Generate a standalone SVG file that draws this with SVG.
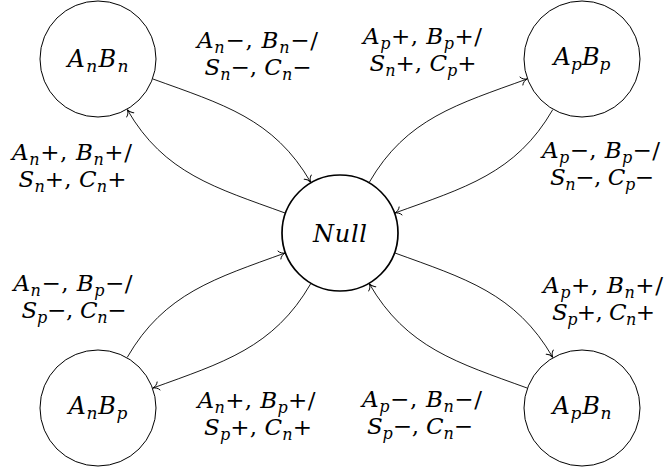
<svg xmlns="http://www.w3.org/2000/svg" width="665" height="470" viewBox="0 0 665 470">
<style>
.node{fill:#fff;stroke:#000;stroke-width:1}
.null{fill:#fff;stroke:#000;stroke-width:1.7}
.edge{fill:none;stroke:#000;stroke-width:0.9;marker-end:url(#ah)}
text{font-family:'DejaVu Serif','Liberation Serif',serif;font-size:23px;fill:#000}
.n{font-size:24px}
.i{font-style:italic}
.s{font-style:italic;font-size:16px}
.n .s{font-size:17px}
</style>
<defs>
<marker id="ah" viewBox="-8 -6 10 12" markerWidth="10" markerHeight="12" refX="0" refY="0" orient="auto" markerUnits="userSpaceOnUse">
<path d="M-6,-4.2 C-5,-1.8 -2,-0.4 0,0 C-2,0.4 -5,1.8 -6,4.2" fill="none" stroke="#000" stroke-width="0.9" stroke-linecap="round"/>
</marker>
</defs>
<g id="connectors">
<path class="edge" d="M152.97,79.01 C222.36,104.26 273.83,118.39 310.75,182.34"/>
<path class="edge" d="M285.03,212.99 C215.64,187.74 164.17,173.61 127.25,109.66"/>
<path class="edge" d="M369.25,182.34 C406.17,118.39 457.64,104.26 527.03,79.01"/>
<path class="edge" d="M552.75,109.66 C515.83,173.61 464.36,187.74 394.97,212.99"/>
<path class="edge" d="M127.25,357.34 C164.28,293.2 215.44,278.34 285.03,253.01"/>
<path class="edge" d="M310.75,283.66 C273.72,347.8 222.56,362.66 152.97,387.99"/>
<path class="edge" d="M394.97,253.01 C464.56,278.34 515.72,293.2 552.75,357.34"/>
<path class="edge" d="M527.03,387.99 C457.44,362.66 406.28,347.8 369.25,283.66"/>
</g>
<g id="AnBn">
<circle class="node" cx="98" cy="59" r="58"/>
<text class="n" x="98" y="67" text-anchor="middle" textLength="61" lengthAdjust="spacing"><tspan class="i">A</tspan><tspan class="s" dy="4.5">n</tspan><tspan class="i" dy="-4.5">B</tspan><tspan class="s" dy="4.5">n</tspan></text>
</g>
<g id="ApBp">
<circle class="node" cx="582" cy="59" r="58"/>
<text class="n" x="582" y="65" text-anchor="middle" textLength="57" lengthAdjust="spacing"><tspan class="i">A</tspan><tspan class="s" dy="4.5">p</tspan><tspan class="i" dy="-4.5">B</tspan><tspan class="s" dy="4.5">p</tspan></text>
</g>
<g id="Null">
<circle class="null" cx="340" cy="233" r="58"/>
<text class="n i" x="340" y="242" text-anchor="middle" textLength="54" lengthAdjust="spacing">Null</text>
</g>
<g id="AnBp">
<circle class="node" cx="98" cy="408" r="58"/>
<text class="n" x="98" y="414" text-anchor="middle" textLength="59" lengthAdjust="spacing"><tspan class="i">A</tspan><tspan class="s" dy="4.5">n</tspan><tspan class="i" dy="-4.5">B</tspan><tspan class="s" dy="4.5">p</tspan></text>
</g>
<g id="ApBn">
<circle class="node" cx="582" cy="408" r="58"/>
<text class="n" x="582" y="414" text-anchor="middle" textLength="59" lengthAdjust="spacing"><tspan class="i">A</tspan><tspan class="s" dy="4.5">p</tspan><tspan class="i" dy="-4.5">B</tspan><tspan class="s" dy="4.5">n</tspan></text>
</g>
<g id="labels">
<text x="257.5" y="48" text-anchor="middle" textLength="121" lengthAdjust="spacing"><tspan class="i">A</tspan><tspan class="s" dy="4.5">n</tspan><tspan dy="-4.5">−, </tspan><tspan class="i">B</tspan><tspan class="s" dy="4.5">n</tspan><tspan dy="-4.5">−/</tspan></text>
<text x="258" y="75" text-anchor="middle" textLength="107" lengthAdjust="spacing"><tspan class="i">S</tspan><tspan class="s" dy="4.5">n</tspan><tspan dy="-4.5">−, </tspan><tspan class="i">C</tspan><tspan class="s" dy="4.5">n</tspan><tspan dy="-4.5">−</tspan></text>

<text x="422.5" y="44" text-anchor="middle" textLength="119" lengthAdjust="spacing"><tspan class="i">A</tspan><tspan class="s" dy="4.5">p</tspan><tspan dy="-4.5">+, </tspan><tspan class="i">B</tspan><tspan class="s" dy="4.5">p</tspan><tspan dy="-4.5">+/</tspan></text>
<text x="423" y="71" text-anchor="middle" textLength="107" lengthAdjust="spacing"><tspan class="i">S</tspan><tspan class="s" dy="4.5">n</tspan><tspan dy="-4.5">+, </tspan><tspan class="i">C</tspan><tspan class="s" dy="4.5">p</tspan><tspan dy="-4.5">+</tspan></text>

<text x="601" y="158" text-anchor="middle" textLength="118" lengthAdjust="spacing"><tspan class="i">A</tspan><tspan class="s" dy="4.5">p</tspan><tspan dy="-4.5">−, </tspan><tspan class="i">B</tspan><tspan class="s" dy="4.5">p</tspan><tspan dy="-4.5">−/</tspan></text>
<text x="602" y="185" text-anchor="middle" textLength="104" lengthAdjust="spacing"><tspan class="i">S</tspan><tspan class="s" dy="4.5">n</tspan><tspan dy="-4.5">−, </tspan><tspan class="i">C</tspan><tspan class="s" dy="4.5">p</tspan><tspan dy="-4.5">−</tspan></text>

<text x="72" y="160" text-anchor="middle" textLength="120" lengthAdjust="spacing"><tspan class="i">A</tspan><tspan class="s" dy="4.5">n</tspan><tspan dy="-4.5">+, </tspan><tspan class="i">B</tspan><tspan class="s" dy="4.5">n</tspan><tspan dy="-4.5">+/</tspan></text>
<text x="72.5" y="187" text-anchor="middle" textLength="108" lengthAdjust="spacing"><tspan class="i">S</tspan><tspan class="s" dy="4.5">n</tspan><tspan dy="-4.5">+, </tspan><tspan class="i">C</tspan><tspan class="s" dy="4.5">n</tspan><tspan dy="-4.5">+</tspan></text>

<text x="73" y="291" text-anchor="middle" textLength="119" lengthAdjust="spacing"><tspan class="i">A</tspan><tspan class="s" dy="4.5">n</tspan><tspan dy="-4.5">−, </tspan><tspan class="i">B</tspan><tspan class="s" dy="4.5">p</tspan><tspan dy="-4.5">−/</tspan></text>
<text x="74" y="318" text-anchor="middle" textLength="105" lengthAdjust="spacing"><tspan class="i">S</tspan><tspan class="s" dy="4.5">p</tspan><tspan dy="-4.5">−, </tspan><tspan class="i">C</tspan><tspan class="s" dy="4.5">n</tspan><tspan dy="-4.5">−</tspan></text>

<text x="256.5" y="408" text-anchor="middle" textLength="118" lengthAdjust="spacing"><tspan class="i">A</tspan><tspan class="s" dy="4.5">n</tspan><tspan dy="-4.5">+, </tspan><tspan class="i">B</tspan><tspan class="s" dy="4.5">p</tspan><tspan dy="-4.5">+/</tspan></text>
<text x="258" y="435" text-anchor="middle" textLength="108" lengthAdjust="spacing"><tspan class="i">S</tspan><tspan class="s" dy="4.5">p</tspan><tspan dy="-4.5">+, </tspan><tspan class="i">C</tspan><tspan class="s" dy="4.5">n</tspan><tspan dy="-4.5">+</tspan></text>

<text x="603" y="293" text-anchor="middle" textLength="120" lengthAdjust="spacing"><tspan class="i">A</tspan><tspan class="s" dy="4.5">p</tspan><tspan dy="-4.5">+, </tspan><tspan class="i">B</tspan><tspan class="s" dy="4.5">n</tspan><tspan dy="-4.5">+/</tspan></text>
<text x="603.5" y="320" text-anchor="middle" textLength="103" lengthAdjust="spacing"><tspan class="i">S</tspan><tspan class="s" dy="4.5">p</tspan><tspan dy="-4.5">+, </tspan><tspan class="i">C</tspan><tspan class="s" dy="4.5">n</tspan><tspan dy="-4.5">+</tspan></text>

<text x="422" y="407" text-anchor="middle" textLength="120" lengthAdjust="spacing"><tspan class="i">A</tspan><tspan class="s" dy="4.5">p</tspan><tspan dy="-4.5">−, </tspan><tspan class="i">B</tspan><tspan class="s" dy="4.5">n</tspan><tspan dy="-4.5">−/</tspan></text>
<text x="420" y="434" text-anchor="middle" textLength="106" lengthAdjust="spacing"><tspan class="i">S</tspan><tspan class="s" dy="4.5">p</tspan><tspan dy="-4.5">−, </tspan><tspan class="i">C</tspan><tspan class="s" dy="4.5">n</tspan><tspan dy="-4.5">−</tspan></text>
</g>
</svg>
